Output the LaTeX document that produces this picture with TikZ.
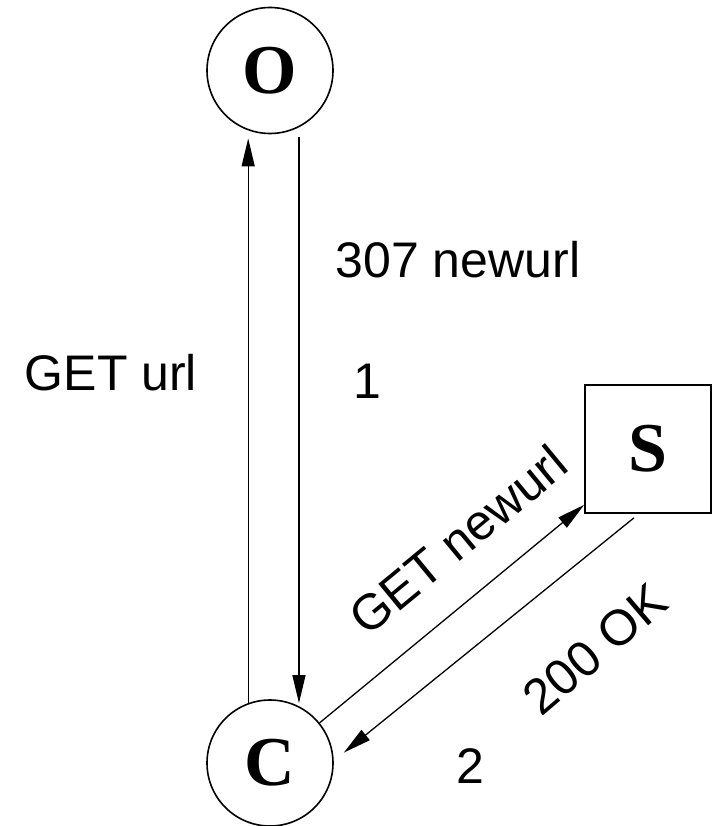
\documentclass[tikz,border=0pt]{standalone}
\usepackage{fontspec}
\setmainfont{Liberation Sans}
\newfontfamily\nodefont{Liberation Serif}
\usetikzlibrary{arrows.meta}
\begin{document}
\begin{tikzpicture}[x=1pt,y=-1pt,
  party/.style={circle,draw,line width=1.6pt,minimum size=126pt,inner sep=0pt,
    font=\nodefont\fontsize{70}{70}\selectfont\bfseries},
  server/.style={rectangle,draw,line width=1.6pt,minimum width=126pt,minimum height=128pt,
    inner sep=0pt,font=\nodefont\fontsize{70}{70}\selectfont\bfseries},
  msg/.style={-{Triangle[length=28pt,width=13pt]},line width=1.3pt},
  lbl/.style={font=\fontsize{50}{60}\selectfont,inner sep=0pt}]
  \useasboundingbox (0,0) rectangle (715,826);

  % participants
  \node[party]  (O) at (270,70.5) {O};
  \node[party]  (C) at (270,763)  {C};
  \node[server] (S) at (648,449)  {S};

  % step 1: request to the origin and the redirect back
  \draw[msg,shorten >=8pt] (C.110.4) -- (O.-110.4);
  \draw[msg,shorten <=10pt,shorten >=3pt] (O.-63.6) -- (C.63.6);

  % step 2: request to the new location and the reply
  \draw[msg] (C.39.8) -- ([yshift=9pt]S.south west);
  \draw[msg,shorten >=13pt] ([xshift=-14pt,yshift=-4pt]S.south) -- (C.2);

  % labels
  \node[lbl,anchor=base] (l1) at (111,390) {GET url};
  \node[lbl,anchor=base] (l2) at (458,277) {307 newurl};
  \node[lbl,anchor=base] (n1) at (367,398) {1};
  \node[lbl,rotate=39.5] (l3) at (458,540) {GET newurl};
  \node[lbl,rotate=40.5] (l4) at (595,649) {200 OK};
  \node[lbl,anchor=base] (n2) at (470,783) {2};
\end{tikzpicture}
\end{document}
